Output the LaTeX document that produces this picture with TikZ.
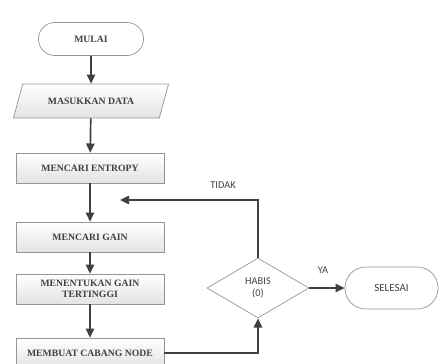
\documentclass[tikz,border=0pt]{standalone}
\usepackage{fontspec}
\setmainfont{Liberation Serif}
\newfontfamily\labelfont{Carlito}
\usetikzlibrary{shapes.geometric,arrows.meta}
\definecolor{inkgray}{RGB}{64,64,64}
\definecolor{edgegray}{RGB}{150,150,150}
\begin{document}
\begin{tikzpicture}[x=0.025cm,y=-0.025cm,
    every node/.style={text=inkgray,font=\fontsize{6.9}{7.9}\selectfont\bfseries},
    procbox/.style={draw=edgegray,line width=0.5pt,rectangle,minimum width=3.7cm,
      minimum height=0.75cm,top color=white,bottom color=gray!22,align=center},
    termbox/.style={draw=edgegray,line width=0.5pt,rectangle,rounded corners=0.41cm,
      minimum width=2.625cm,minimum height=0.825cm,fill=white},
    iobox/.style={draw=edgegray,line width=0.5pt,trapezium,trapezium left angle=68,
      trapezium right angle=112,trapezium stretches=true,minimum width=3.9cm,
      minimum height=0.85cm,top color=white,bottom color=gray!22},
    decbox/.style={draw=edgegray,line width=0.5pt,diamond,aspect=1.7,
      minimum width=2.55cm,minimum height=1.5cm,fill=white,inner sep=0pt,
      align=center,font=\labelfont\fontsize{7.4}{8.8}\selectfont},
    flow/.style={draw=inkgray,line width=1.2pt,-{Triangle[length=6.5pt,width=6pt]}},
    lbl/.style={font=\labelfont\fontsize{7.4}{8}\selectfont}]
  \clip (0,0) rectangle (439,363);
  \useasboundingbox (0,0) rectangle (439,363);
  \draw
    (91,39) node[termbox] (mulai){MULAI}
    (91,101) node[iobox] (masukkan){MASUKKAN DATA}
    (90,168) node[procbox] (entropy){MENCARI ENTROPY}
    (90,237) node[procbox] (gain){MENCARI GAIN}
    (90,289) node[procbox] (tinggi){MENENTUKAN GAIN\\TERTINGGI}
    (90,353) node[procbox] (cabang){MEMBUAT CABANG NODE}
    (258,288) node[decbox] (habis){HABIS\\(0)}
    (391.5,288) node[termbox,minimum width=2.325cm,minimum height=1.05cm,
      rounded corners=0.52cm,font=\labelfont\fontsize{7.8}{9}\selectfont] (selesai){SELESAI};
  \coordinate (balik) at (258,200);
  \coordinate (ujung) at (120,200);
  \coordinate (bawah) at (258,353);
  \node[lbl] (tidak) at (223,185) {TIDAK};
  \node[lbl] (ya) at (323,270) {YA};
  \begin{scope}[flow]
    \draw (mulai) to (masukkan);
    \draw (masukkan) to (entropy);
    \draw (entropy) to (gain);
    \draw (gain) to (tinggi);
    \draw (tinggi) to (cabang);
    \draw (cabang.east) -- (bawah) -- (habis.south);
    \draw (habis.north) -- (balik) -- (ujung);
    \draw (habis) to (selesai);
  \end{scope}
\end{tikzpicture}
\end{document}
